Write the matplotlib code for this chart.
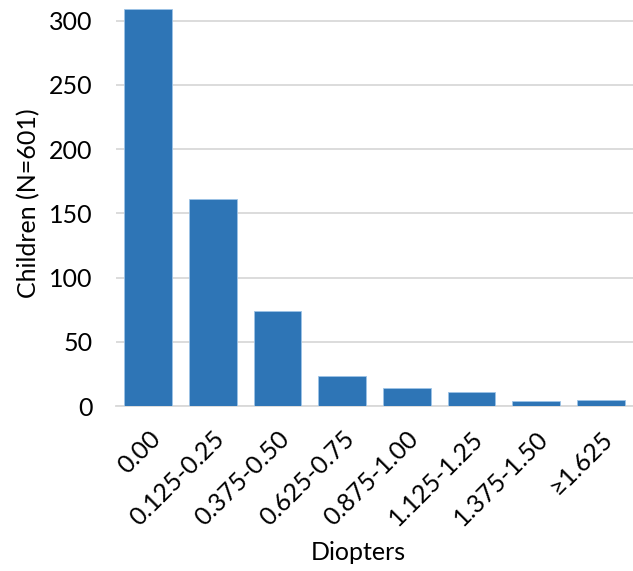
import matplotlib.pyplot as plt

categories = ["0.00", "0.125-0.25", "0.375-0.50", "0.625-0.75",
              "0.875-1.00", "1.125-1.25", "1.375-1.50", "≥1.625"]
children = [309, 161, 74, 23, 14, 11, 4, 5]
y_ticks = [0, 50, 100, 150, 200, 250, 300]

plt.rcParams['font.family'] = ['Lato', 'DejaVu Sans']

fig = plt.figure(figsize=(6.33, 5.71), dpi=100)
ax = fig.add_axes([116 / 633, 1 - 406 / 571, 1 - 116 / 633, 406 / 571])

x = range(len(categories))
ax.bar(x, children, width=0.74, color="#2E75B6", edgecolor="#9DC3E6",
       linewidth=0.6, zorder=3)

ax.set_xlim(-0.5, len(categories) - 0.5)
ax.set_ylim(0, 316)
ax.set_yticks(y_ticks)
ax.yaxis.grid(True, color="#D9D9D9", linewidth=1.3, zorder=0)
ax.tick_params(axis="y", length=0, labelsize=18, pad=17)
ax.tick_params(axis="x", length=0, labelsize=18, pad=15)

ax.set_xticks(list(x))
ax.set_xticklabels(categories, rotation=45, ha="right", va="top",
                   rotation_mode="anchor")

for side in ["top", "right", "left"]:
    ax.spines[side].set_visible(False)
ax.spines["bottom"].set_color("#D9D9D9")
ax.spines["bottom"].set_linewidth(1.3)

ax.set_ylabel("Children (N=601)", fontsize=18, labelpad=6)
fig.text(358 / 633, 1 - 552 / 571, "Diopters", fontsize=18,
         ha="center", va="center")

fig.savefig("out.png", dpi=100)
